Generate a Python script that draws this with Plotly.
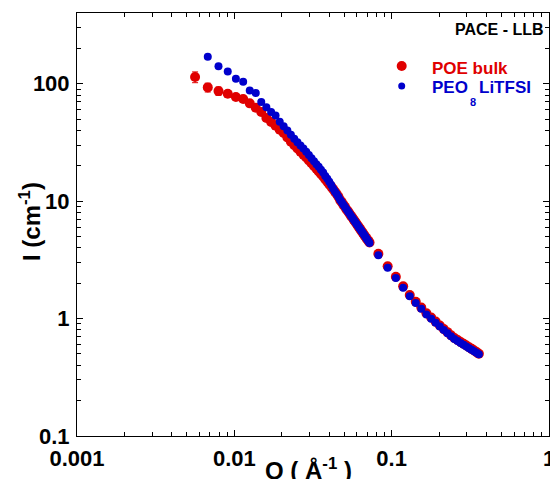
import plotly.graph_objects as go

# ---------------- data ----------------
q_low = [0.00563, 0.00678, 0.00793, 0.00908, 0.01023, 0.01138, 0.01253, 0.01368, 0.01483, 0.01598,
         0.01713, 0.01828, 0.01943, 0.02058, 0.02173, 0.02288, 0.02403, 0.02518, 0.02633, 0.02748,
         0.02863, 0.02978, 0.03093, 0.03208, 0.03323, 0.03438, 0.03553, 0.03668, 0.03783, 0.03898,
         0.04013, 0.04128, 0.04243, 0.04358, 0.04473, 0.04588, 0.04703, 0.04818, 0.04933, 0.05048,
         0.05163, 0.05278, 0.05393, 0.05508, 0.05623, 0.05738, 0.05853, 0.05968, 0.06083, 0.06198,
         0.06313, 0.06428, 0.06543, 0.06658, 0.06773, 0.06888, 0.07003, 0.07118, 0.07233]
q_high = [0.0823, 0.0943, 0.1063, 0.1183, 0.1303, 0.1423, 0.1543, 0.1663, 0.1783, 0.1903,
          0.2023, 0.2143, 0.2263, 0.2383, 0.2503, 0.2623, 0.2743, 0.2863, 0.2983, 0.3103,
          0.3223, 0.3343, 0.3463, 0.3583]

poe_low = [114, 93, 86.5, 82, 77, 74, 68, 62.5, 57.5, 51,
           47.3, 43.8, 40.6, 38.0, 34.9, 32.1, 30.0, 28.1, 26.4, 24.9,
           23.5, 22.2, 21.0, 19.9, 18.85, 17.9, 17.05, 16.2, 15.35, 14.6,
           13.9, 13.3, 12.65, 12.05, 11.5, 10.9, 10.2, 9.8, 9.3, 8.95,
           8.5, 8.2, 7.85, 7.5, 7.25, 6.95, 6.7, 6.45, 6.2, 5.98,
           5.78, 5.57, 5.38, 5.2, 5.03, 4.88, 4.72, 4.6, 4.45]
poe_low_err = [12, 8, 7, 5, 4, 3, 2.5, 2, 1.5, 1.2]
poe_high = [3.56, 2.79, 2.27, 1.88, 1.59, 1.39, 1.24, 1.11, 1.02, 0.942,
            0.873, 0.815, 0.766, 0.720, 0.683, 0.656, 0.632, 0.610, 0.589, 0.570,
            0.552, 0.535, 0.518, 0.502]

peo_low = [170, 141, 127, 110, 104, 87.5, 83.5, 70, 63, 57.5,
           53.5, 47.5, 43.5, 40, 36.8, 34.0, 31.8, 29.8, 28.0, 26.3,
           24.7, 23.2, 21.9, 20.6, 19.6, 18.5, 17.5, 16.4, 15.5, 14.6,
           13.7, 12.8, 12.1, 11.45, 10.85, 10.24, 9.77, 9.33, 8.92, 8.53,
           8.17, 7.83, 7.52, 7.22, 6.94, 6.68, 6.43, 6.19, 5.97, 5.76,
           5.56, 5.37, 5.19, 5.02, 4.86, 4.70, 4.56, 4.41]
peo_high = [3.46, 2.71, 2.21, 1.83, 1.55, 1.36, 1.21, 1.085, 0.998, 0.922,
            0.855, 0.799, 0.751, 0.706, 0.670, 0.644, 0.620, 0.599, 0.578, 0.560,
            0.543, 0.527, 0.511, 0.497]

x_ticks = [0.001, 0.01, 0.1, 1]
x_ticktext = ["0.001", "0.01", "0.1", "1"]
y_ticks = [0.1, 1, 10, 100]
y_ticktext = ["0.1", "1", "10", "100"]

RED = "#e00000"
BLUE = "#0000cc"
FONT = "Liberation Sans, Arial, sans-serif"

poe_q = q_low + q_high
poe_I = poe_low + poe_high
poe_err = poe_low_err + [0] * (len(poe_I) - len(poe_low_err))
peo_q = q_low[1:] + q_high
peo_I = peo_low + peo_high

fig = go.Figure()
fig.add_trace(go.Scatter(
    x=poe_q, y=poe_I, mode="markers", name="POE bulk", showlegend=False,
    marker=dict(color=RED, size=10, line=dict(width=0)),
    error_y=dict(type="data", array=poe_err, color=RED, thickness=1, width=3),
))
fig.add_trace(go.Scatter(
    x=peo_q, y=peo_I, mode="markers", name="PEO8 LiTFSI", showlegend=False,
    marker=dict(color=BLUE, size=8, line=dict(width=0)),
))

# plot area in pixels
L, R, T, B = 77, 549, 13, 436
W, H = R - L, B - T


def px(xp):
    return (xp - L) / W


def py(yp):
    return (B - yp) / H


x_minor = [m * 10 ** e for e in (-3, -2, -1) for m in range(2, 10)]
y_minor = [m * 10 ** e for e in (-1, 0, 1, 2) for m in range(2, 10) if m * 10 ** e < 400]

axis_common = dict(
    showline=True, linecolor="black", linewidth=1, mirror="ticks",
    ticks="inside", ticklen=6, tickwidth=1, tickcolor="black",
    showgrid=False, zeroline=False, automargin=False, ticklabeloverflow="allow",
    tickfont=dict(family=FONT, size=22, color="black", weight="bold"),
)

fig.update_xaxes(
    type="log", range=[-3, 0], tickmode="array", tickvals=x_ticks, ticktext=x_ticktext,
    minor=dict(ticks="inside", ticklen=4, tickwidth=1, tickcolor="black",
               tickmode="array", tickvals=x_minor, showgrid=False),
    ticklabelstandoff=3,
    **axis_common,
)
fig.update_yaxes(
    type="log", range=[-1, 2.60206], tickmode="array", tickvals=y_ticks, ticktext=y_ticktext,
    minor=dict(ticks="inside", ticklen=4, tickwidth=1, tickcolor="black",
               tickmode="array", tickvals=y_minor, showgrid=False),
    ticklabelstandoff=2,
    **axis_common,
)

shapes = [
    dict(type="circle", xref="paper", yref="paper", xsizemode="pixel", ysizemode="pixel",
         xanchor=px(401.7), yanchor=py(66), x0=-5, x1=5, y0=-5, y1=5,
         fillcolor=RED, line=dict(width=0)),
    dict(type="circle", xref="paper", yref="paper", xsizemode="pixel", ysizemode="pixel",
         xanchor=px(401.7), yanchor=py(86), x0=-3.5, x1=3.5, y0=-3.5, y1=3.5,
         fillcolor=BLUE, line=dict(width=0)),
]


def ann(text, x, y, size, color="black", xanchor="left", yanchor="middle", angle=0):
    return dict(text=text, x=x, y=y, xref="paper", yref="paper", showarrow=False,
                xanchor=xanchor, yanchor=yanchor, textangle=angle,
                font=dict(family=FONT, size=size, color=color, weight="bold"))


annotations = [
    ann("PACE - LLB", px(546), py(30), 16, xanchor="right"),
    ann("POE bulk", px(430), py(68.5), 17, color=RED),
    ann("PEO", px(430), py(87), 17, color=BLUE),
    ann("8", px(467.5), py(101.7), 11, color=BLUE),
    ann("LiTFSI", px(476.5), py(87), 17, color=BLUE),
    ann("Q ( Å<sup>-1</sup> )", px(308), py(469), 24, xanchor="center"),
    ann("I (cm<sup>-1</sup>)", px(30), py(222), 24, xanchor="center", angle=-90),
]

fig.update_layout(
    width=550, height=479,
    margin=dict(l=L, r=550 - R, t=T, b=479 - B, autoexpand=False),
    paper_bgcolor="white", plot_bgcolor="white",
    shapes=shapes, annotations=annotations,
    showlegend=False,
)

fig.write_html("out.html", config={"displayModeBar": False})

# remove the default page margin so the figure sits at the window's top-left corner
with open("out.html", encoding="utf-8") as f:
    html = f.read()
html = html.replace("<head>", "<head><style>html,body{margin:0;padding:0;overflow:hidden;}</style>", 1)
with open("out.html", "w", encoding="utf-8") as f:
    f.write(html)
